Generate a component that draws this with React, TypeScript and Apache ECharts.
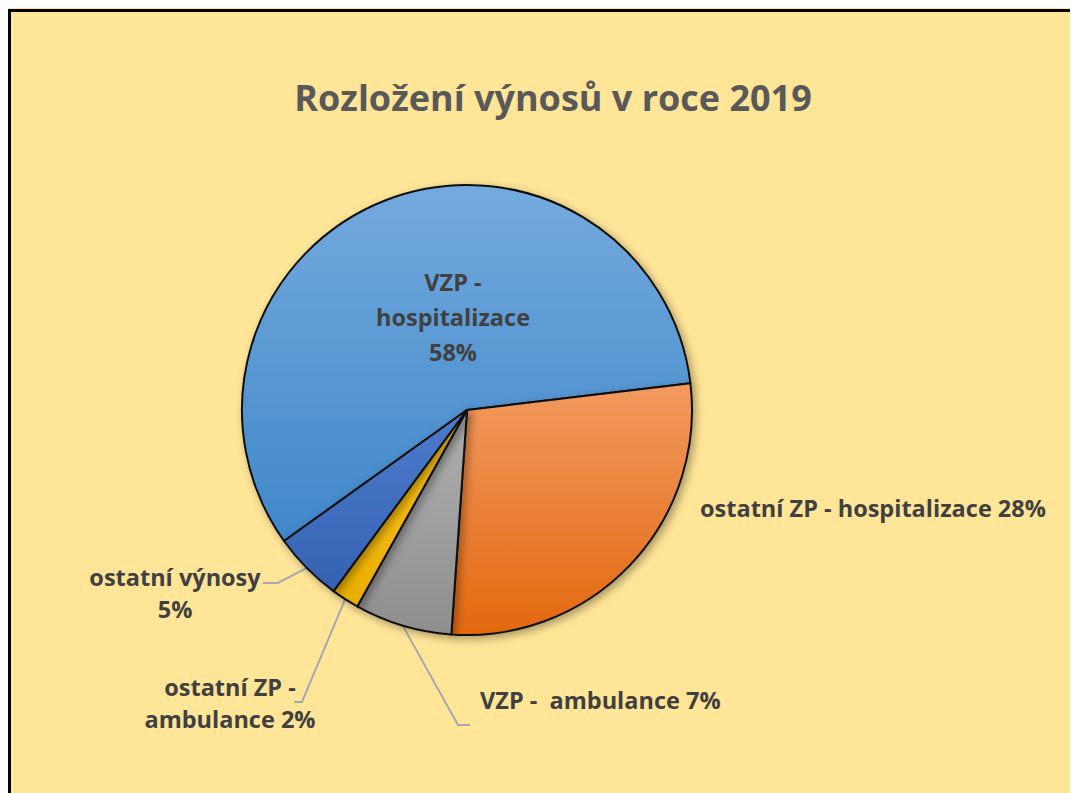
import React, { useEffect, useRef } from "react";
import * as echarts from "echarts";

const TITLE = "Rozložení výnosů v roce 2019";
const CATEGORIES = [
  "VZP - hospitalizace",
  "ostatní ZP - hospitalizace",
  "VZP -  ambulance",
  "ostatní ZP - ambulance",
  "ostatní výnosy",
];
const LABEL_TEXTS = [
  "VZP -\nhospitalizace",
  "ostatní ZP - hospitalizace",
  "VZP -  ambulance",
  "ostatní ZP -\nambulance",
  "ostatní výnosy",
];
const LABEL_SEPARATORS = ["\n", " ", " ", " ", "\n"];
const VALUES = [58, 28, 7, 2, 5];

const COLORS: [string, string][] = [
  ["#74aade", "#3f87c9"],
  ["#f29a60", "#e3680f"],
  ["#b0b0b0", "#8e8e8e"],
  ["#ffc81a", "#e8ad00"],
  ["#4d7bcc", "#3562b3"],
];

// label anchor positions (chart pixel coords) and leader line bends
const LABEL_LAYOUT: any[] = [
  { x: 445, y: 309, align: "center" },
  { x: 692, y: 500, align: "left" },
  { x: 472, y: 692, align: "left", line: [[450, 717], [462, 717]] },
  { x: 222, y: 695, align: "center", line: [[294, 694], [286, 694]] },
  { x: 167, y: 585, align: "center", line: [[270, 575], [255, 575]] },
];

export default function App() {
  const ref = useRef<HTMLDivElement>(null);
  useEffect(() => {
    document.body.style.overflow = "hidden";
    if (!ref.current) return;
    const chart = echarts.init(ref.current, undefined, { renderer: "svg" });
    const font = "'Open Sans', 'Noto Sans', sans-serif";
    chart.setOption({
      animation: false,
      backgroundColor: "transparent",
      title: {
        text: TITLE,
        left: 540,
        top: 66,
        textAlign: "center",
        textStyle: {
          fontFamily: font,
          fontWeight: "bold",
          fontSize: 36,
          color: "#595959",
        },
      },
      series: [
        {
          type: "pie",
          center: [459, 402],
          radius: 225,
          startAngle: 215.6,
          clockwise: true,
          avoidLabelOverlap: false,
          itemStyle: {
            borderColor: "#111",
            borderWidth: 2,
            shadowBlur: 8,
            shadowOffsetX: 3,
            shadowOffsetY: 3,
            shadowColor: "rgba(0,0,0,0.35)",
          },
          label: {
            show: true,
            position: "outside",
            fontFamily: font,
            fontWeight: "bold",
            fontSize: 23.5,
            lineHeight: 32,
            color: "#404040",
            formatter: (p: any) =>
              `${LABEL_TEXTS[p.dataIndex]}${LABEL_SEPARATORS[p.dataIndex]}${Math.round(p.percent)}%`,
          },
          labelLine: {
            show: true,
            lineStyle: { color: "#a8a8b0", width: 2 },
          },
          labelLayout: (p: any) => {
            const L = LABEL_LAYOUT[p.dataIndex];
            const out: any = { x: L.x, y: L.y, align: L.align, verticalAlign: "middle" };
            if (L.line && p.labelLinePoints) {
              out.labelLinePoints = [p.labelLinePoints[0], L.line[0], L.line[1]];
            }
            return out;
          },
          data: VALUES.map((v, i) => ({
            name: CATEGORIES[i],
            value: v,
            itemStyle: {
              color: new echarts.graphic.LinearGradient(0, 0, 0, 1, [
                { offset: 0, color: COLORS[i][0] },
                { offset: 1, color: COLORS[i][1] },
              ]),
            },
            label: i === 0 ? { position: "inside", lineHeight: 35 } : undefined,
            labelLine: i <= 1 ? { show: false } : undefined,
          })),
        },
      ],
    });
    return () => chart.dispose();
  }, []);

  return (
    <div
      style={{
        position: "relative",
        width: 1070,
        height: 785,
        background: "#ffe597",
        overflow: "hidden",
      }}
    >
      <div ref={ref} style={{ position: "absolute", left: 0, top: 0, width: 1070, height: 785 }} />
      <div
        style={{
          position: "absolute",
          left: 0,
          top: 1,
          width: 1070,
          height: 785,
          borderTop: "3px solid #000",
          borderLeft: "3px solid #000",
          pointerEvents: "none",
        }}
      />
    </div>
  );
}
